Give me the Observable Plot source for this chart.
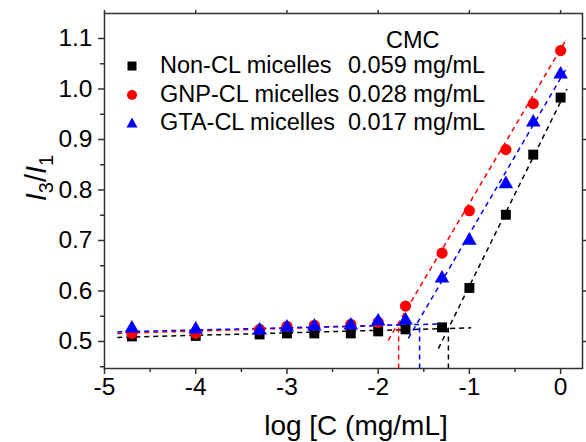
<!DOCTYPE html>
<html><head><meta charset="utf-8">
<script src="https://cdn.jsdelivr.net/npm/d3@7"></script>
<script src="https://cdn.jsdelivr.net/npm/@observablehq/plot@0.6"></script>
<style>
body{margin:0;background:#fff;}
#wrap{position:relative;width:586px;height:442px;font-family:"Liberation Sans",Arial,sans-serif;color:#000;}
.lg{position:absolute;font-size:23.5px;line-height:26px;white-space:nowrap;}
.sym{position:absolute;}
</style></head><body><div id="wrap"></div>
<script>
// data
const logC  = [-4.7, -4, -3.3, -3, -2.7, -2.3, -2, -1.7, -1.3, -1, -0.6, -0.3, 0];
const nonCL = [0.510, 0.511, 0.514, 0.516, 0.516, 0.516, 0.520, 0.524, 0.528, 0.606, 0.751, 0.870, 0.983];
const gnpCL = [0.516, 0.516, 0.524, 0.530, 0.532, 0.534, 0.538, 0.570, 0.675, 0.759, 0.880, 0.971, 1.076];
const gtaCL = [0.526, 0.524, 0.522, 0.528, 0.530, 0.532, 0.540, 0.542, 0.625, 0.700, 0.812, 0.934, 1.029];
const seriesNames = ["Non-CL micelles", "GNP-CL micelles", "GTA-CL micelles"];
const seriesColors = ["#000000", "#ff0000", "#0000ff"];
const seriesSymbols = ["square", "circle", "triangle"];
const cmcLabels = ["0.059 mg/mL", "0.028 mg/mL", "0.017 mg/mL"];
// fitted lines: [x0, y0, x1, y1] per series
const fitLow  = [[-4.86, 0.508, -0.98, 0.527], [-4.86, 0.516, -1.70, 0.533], [-4.86, 0.519, -1.24, 0.535]];
const fitHigh = [[-1.34, 0.486, 0.07, 1.000], [-1.89, 0.502, 0.055, 1.096], [-1.67, 0.506, 0.077, 1.045]];
// CMC intersection (log C, I3/I1)
const cmcX = [-1.23, -1.776, -1.546];
const cmcY = [0.527, 0.535, 0.530];
const xTicks = [-5, -4, -3, -2, -1, 0];
const xMinor = [-4.5, -3.5, -2.5, -1.5, -0.5];
const yTicks = [0.5, 0.6, 0.7, 0.8, 0.9, 1.0, 1.1];
const yMinor = [0.45, 0.55, 0.65, 0.75, 0.85, 0.95, 1.05];
const xDomain = [-5, 0.24];
const yDomain = [0.4465, 1.1495];

const allVals = [nonCL, gnpCL, gtaCL];
const points = [];
allVals.forEach((vals, s) => vals.forEach((v, i) => points.push({series: seriesNames[s], x: logC[i], y: v})));
const segs = [];
seriesNames.forEach((n, s) => {
  segs.push({series: n, x1: fitLow[s][0], y1: fitLow[s][1], x2: fitLow[s][2], y2: fitLow[s][3]});
  segs.push({series: n, x1: fitHigh[s][0], y1: fitHigh[s][1], x2: fitHigh[s][2], y2: fitHigh[s][3]});
  segs.push({series: n, x1: cmcX[s], y1: yDomain[0], x2: cmcX[s], y2: cmcY[s]});
});

const colorScale = {domain: seriesNames, range: seriesColors};
const blank = () => "";
const axStroke = "#333";
const tickFont = 24.5;

const plot = Plot.plot({
  width: 586, height: 442,
  marginLeft: 104, marginRight: 4, marginTop: 13, marginBottom: 74,
  style: {fontFamily: "'Liberation Sans', Arial, sans-serif", fontSize: "24px", color: "#000", background: "#fff"},
  x: {domain: xDomain, label: null},
  y: {domain: yDomain, label: null},
  color: colorScale,
  symbol: {domain: seriesNames, range: seriesSymbols},
  marks: [
    Plot.link(segs, {x1: "x1", y1: "y1", x2: "x2", y2: "y2", stroke: "series", strokeWidth: 1.5, strokeDasharray: "5,4"}),
    Plot.dot(points.filter(d => d.series === seriesNames[0]), {x: "x", y: "y", symbol: "series", fill: "series", r: 5.6}),
    Plot.dot(points.filter(d => d.series === seriesNames[1]), {x: "x", y: "y", symbol: "series", fill: "series", r: 5.6}),
    Plot.dot(points.filter(d => d.series === seriesNames[2]), {x: "x", y: "y", symbol: "series", fill: "series", r: 5.4}),
    Plot.axisX({ticks: xTicks, tickSize: 6, tickPadding: 3, fontSize: tickFont, stroke: axStroke, strokeWidth: 1.5, tickFormat: d => d}),
    Plot.axisX({ticks: xMinor, tickSize: 4, stroke: axStroke, strokeWidth: 1.5, tickFormat: blank}),
    Plot.axisX({anchor: "top", ticks: xTicks, tickSize: 4, stroke: axStroke, strokeWidth: 1.5, tickFormat: blank}),
    Plot.axisY({ticks: yTicks, tickSize: 6, tickPadding: 6, fontSize: tickFont, stroke: axStroke, strokeWidth: 1.5, tickFormat: d3.format(".1f")}),
    Plot.axisY({ticks: yMinor, tickSize: 4, stroke: axStroke, strokeWidth: 1.5, tickFormat: blank}),
    Plot.axisY({anchor: "right", ticks: yTicks, tickSize: 3, stroke: axStroke, strokeWidth: 1.5, tickFormat: blank}),
    Plot.frame({stroke: axStroke, strokeWidth: 1.5})
  ]
});
const wrap = document.getElementById("wrap");
wrap.appendChild(plot);

// axis titles
const svg = d3.select(plot);
svg.append("text").attr("x", 356).attr("y", 435).attr("text-anchor", "middle")
  .attr("font-size", 28).attr("fill", "#000").text("log [C (mg/mL]");
const yt = svg.append("text").attr("transform", "translate(46,178) rotate(-90)").attr("text-anchor", "middle")
  .attr("font-size", 29).attr("fill", "#000");
yt.append("tspan").attr("font-style", "italic").text("I");
yt.append("tspan").attr("font-size", 20).attr("dy", 7).text("3");
yt.append("tspan").attr("dy", -7).text("/");
yt.append("tspan").attr("font-style", "italic").text("I");
yt.append("tspan").attr("font-size", 20).attr("dy", 7).text("1");

// legend (inside frame, top-left)
const hdr = document.createElement("div");
hdr.className = "lg"; hdr.style.left = "386px"; hdr.style.top = "27px"; hdr.textContent = "CMC";
wrap.appendChild(hdr);
const rowY = [66, 95, 123];
seriesNames.forEach((n, i) => {
  const sym = document.createElementNS("http://www.w3.org/2000/svg", "svg");
  sym.setAttribute("width", 16); sym.setAttribute("height", 16);
  sym.setAttribute("class", "sym");
  sym.style.left = "124px"; sym.style.top = (rowY[i] - 8) + "px";
  const c = seriesColors[i];
  if (seriesSymbols[i] === "square") sym.innerHTML = `<rect x="3.5" y="3.5" width="9" height="9" fill="${c}"/>`;
  else if (seriesSymbols[i] === "circle") sym.innerHTML = `<circle cx="8" cy="8" r="5" fill="${c}"/>`;
  else sym.innerHTML = `<path d="M8,2.5L13.5,12.5L2.5,12.5Z" fill="${c}"/>`;
  wrap.appendChild(sym);
  const t = document.createElement("div");
  t.className = "lg"; t.style.left = "160px"; t.style.top = (rowY[i] - 14) + "px"; t.textContent = n;
  wrap.appendChild(t);
  const v = document.createElement("div");
  v.className = "lg"; v.style.left = "348px"; v.style.top = (rowY[i] - 14) + "px"; v.textContent = cmcLabels[i];
  wrap.appendChild(v);
});
</script></body></html>
